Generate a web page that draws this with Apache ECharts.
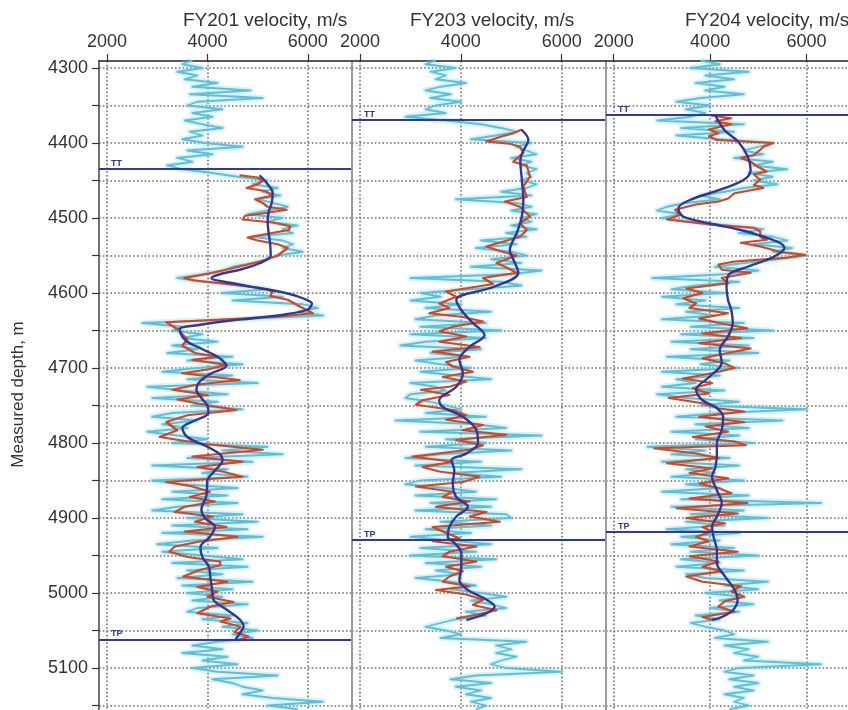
<!DOCTYPE html>
<html>
<head>
<meta charset="utf-8">
<script src="https://cdn.jsdelivr.net/npm/echarts@6/dist/echarts.min.js"></script>
<style>html,body{margin:0;padding:0;background:#fff}#c{width:848px;height:710px}</style>
</head>
<body>
<div id="c"></div>
<script>
// ---------------- DATA ----------------
const wells = ['FY201', 'FY203', 'FY204'];
const velocityTicks = [2000, 4000, 6000];
const depthLabels = [4300, 4400, 4500, 4600, 4700, 4800, 4900, 5000, 5100];
const depthTicks = [4300, 4350, 4400, 4450, 4500, 4550, 4600, 4650, 4700, 4750, 4800, 4850, 4900, 4950, 5000, 5050, 5100, 5150];
const ttDepth = [4435, 4369, 4363];
const tpDepth = [5062, 4929, 4919];

// cyan (raw log) sampled every 5 m starting at 4290 m
const cyanTop = 4290, cyanStep = 5;
const cyan201 = [
3700,3500,3900,3400,3800,3550,4200,3700,4860,3650,
5100,3800,3600,4300,3700,4100,3550,3900,4300,3650,
3900,3500,3950,4700,3600,4100,3400,3700,3200,3500,
4100,4600,5200,4900,5400,5100,5450,5000,5300,5600,
5200,4800,5500,5200,5800,5500,5700,4900,5500,5700,
5500,5900,5400,5200,4900,4500,4300,3900,3400,3900,
4700,5200,4300,5500,4500,5900,6200,5800,6300,4600,
2700,3500,3300,3900,3500,4200,3300,3800,3200,4500,
3600,4700,3800,3100,4500,3600,5000,2800,3500,4400,
2900,4200,3700,4700,3300,2900,3800,3100,3600,2800,
3400,4000,3300,5200,4300,5500,3600,4900,2900,4400,
3900,4800,2900,3500,4600,3300,4400,3100,4600,3400,
2900,4700,3600,5000,3300,4800,3100,5100,3700,3000,
4200,3100,3900,4700,3300,4800,3600,4300,3400,4900,
3500,4500,3600,4300,3700,4800,3800,3600,4500,3900,
4800,4300,5000,4500,4900,4200,3700,4300,3500,4400,
3900,4600,3700,4200,5400,4100,4500,4700,5100,4700,
5300,6300,5200,5800];
const cyan203 = [
3500,3300,3900,3400,3700,3500,4100,3600,3300,3800,
3400,4000,3500,3300,3700,2900,3700,4400,4800,5100,
4700,4200,5400,5100,5300,5500,5000,5400,5200,5500,
5300,5400,5200,5500,5300,4800,5400,3900,5100,5400,
5000,5500,5200,5400,5000,5500,4900,5300,4400,5100,
4300,5000,5300,4600,5200,4200,5600,5000,3000,4800,
5200,4200,3200,3600,3000,4000,3300,4600,3500,3100,
4500,3200,4800,3000,4500,3300,2800,4400,3400,4100,
3100,3600,4200,3200,3900,4600,3000,3500,3700,3000,
2900,3400,3700,4000,3300,4500,2700,4300,4900,3200,
5600,3700,4500,3300,5000,3600,2900,4400,3100,5200,
3800,4800,3200,2900,3700,4300,3100,4700,3400,4600,
3100,4900,5000,3600,4600,3300,4200,3000,3800,4600,
3200,4300,3000,4700,3300,4400,3500,4000,3100,3800,
4300,3800,4400,4900,4200,4600,4900,4100,4500,3900,
3600,3300,3700,4000,3600,5300,4700,5000,4700,5100,
4800,4600,4900,6000,4300,3800,4600,3900,4400,4100,
4600,4200,4500,4300];
const cyan204 = [
3800,4200,3600,4800,3900,4500,3700,4300,3900,4700,
3800,3300,4000,3500,3900,3600,2900,4700,3400,4500,
3300,4200,5300,5000,4700,5100,4500,5300,4900,5600,
4800,5300,4900,5400,4700,4300,3800,4200,3500,3100,
2900,3400,3000,3600,4400,5100,4600,5300,5600,4900,
5700,5300,6000,5400,4700,4100,5000,4300,2800,4600,
3700,3200,4300,3000,3900,3300,4600,3500,4100,3000,
4700,3600,5300,3400,4900,3200,4800,3600,5000,3100,
4400,3800,4600,3000,4200,3300,3700,3000,4300,2900,
3500,4600,3800,6000,4200,3300,5500,3700,4800,3200,
4600,3700,4900,2700,3900,3200,4400,3000,4600,3500,
4100,3200,4700,3500,4200,3000,4800,3400,6300,3200,
4700,3600,5200,3500,4300,3100,4600,3400,4200,3200,
4500,3600,5000,3400,4200,3300,4700,3500,3900,5200,
4300,5000,3900,4700,4200,4900,4000,4600,3700,4200,
3600,3900,4300,4500,4100,5200,4300,4800,4500,5000,
4700,6300,4600,4300,4900,4400,5000,4500,4900,4300,
4700,4500,4800,4400];

// red (filtered log): [depth, velocity]
const red201 = [[4443,4640],[4446,5000],[4450,5100],[4455,5000],[4460,4780],[4464,5150],[4470,5300],[4475,4950],[4480,5100],[4485,5200],[4489,5580],[4493,5200],[4497,4750],[4502,4700],[4506,5300],[4511,5650],[4516,5620],[4521,5200],[4526,4800],[4530,5000],[4535,5400],[4540,5600],[4545,5500],[4550,5400],[4558,5050],[4565,4620],[4574,4050],[4580,3540],[4583,3720],[4588,4400],[4594,5100],[4598,5300],[4604,5250],[4609,5600],[4618,5840],[4627,6100],[4631,5500],[4636,4100],[4639,3180],[4644,3300],[4650,3450],[4655,3500],[4662,3600],[4670,3500],[4680,3750],[4685,4200],[4689,3700],[4696,4380],[4702,4000],[4707,3500],[4716,4640],[4722,3800],[4729,3300],[4736,4000],[4742,3400],[4749,3950],[4756,4580],[4763,3600],[4772,3180],[4783,3400],[4792,3050],[4801,3900],[4809,5100],[4818,3700],[4825,4700],[4832,3800],[4838,4300],[4845,4700],[4852,3180],[4858,3700],[4865,4050],[4872,3650],[4878,4150],[4885,3550],[4892,3350],[4898,4100],[4905,3750],[4912,4380],[4918,3550],[4925,4600],[4932,3800],[4938,3350],[4945,3240],[4952,3600],[4958,4250],[4963,4260],[4969,3860],[4978,3520],[4985,4400],[4992,3800],[4998,4200],[5005,4000],[5012,4520],[5018,4060],[5027,3800],[5034,4460],[5038,4260],[5045,4660],[5052,4540],[5058,4820],[5063,4600]];
const red203 = [[4382,5207],[4387,5040],[4392,4773],[4398,4507],[4401,4973],[4405,5173],[4413,5240],[4425,5040],[4430,5307],[4445,5373],[4458,5240],[4472,5307],[4478,4873],[4485,5173],[4498,5373],[4507,5173],[4516,5307],[4525,5173],[4538,4507],[4544,4773],[4550,5107],[4560,4707],[4566,4907],[4573,5107],[4580,4440],[4588,4640],[4598,3707],[4605,3907],[4614,3573],[4620,3773],[4627,3373],[4632,4040],[4638,4440],[4645,3840],[4651,3573],[4658,4107],[4665,3573],[4672,4373],[4678,3440],[4685,4173],[4692,3707],[4698,3840],[4705,4240],[4712,3640],[4718,4107],[4725,3773],[4729,3207],[4736,3773],[4743,3240],[4749,3107],[4756,3840],[4763,4107],[4769,3707],[4776,4440],[4783,4040],[4789,4907],[4796,3907],[4803,4440],[4809,4173],[4818,3040],[4825,3840],[4832,3240],[4838,3573],[4845,4373],[4852,4040],[4858,3107],[4865,3840],[4872,3640],[4878,4173],[4885,3507],[4892,4507],[4898,4173],[4905,4773],[4912,3440],[4920,3707],[4927,3973],[4931,3440],[4938,4307],[4945,3773],[4951,3640],[4958,4307],[4965,3707],[4971,4040],[4978,3773],[4985,3640],[4991,4173],[4996,3507],[5002,4107],[5009,4440],[5016,4240],[5023,4707],[5029,4307],[5034,3907]];
const red204 = [[4363,3973],[4367,4440],[4371,4107],[4375,4440],[4382,3973],[4387,4173],[4391,3973],[4396,4140],[4400,5307],[4405,5107],[4409,5040],[4416,4907],[4420,4640],[4425,4840],[4431,4973],[4438,5173],[4442,4907],[4449,5040],[4456,4907],[4460,5107],[4467,4507],[4474,4373],[4478,4173],[4482,3707],[4489,3273],[4496,3373],[4502,3107],[4509,4040],[4513,4907],[4518,5040],[4525,5040],[4529,5173],[4533,4640],[4538,5040],[4545,5440],[4549,5973],[4553,5573],[4558,4507],[4562,4173],[4569,4240],[4573,4840],[4580,4240],[4587,4373],[4594,3507],[4600,3840],[4607,3440],[4614,3707],[4620,3573],[4627,4373],[4634,3773],[4640,4173],[4647,4773],[4654,3840],[4660,4640],[4667,3773],[4674,4840],[4680,4373],[4687,3840],[4694,4307],[4700,4507],[4707,4040],[4714,3440],[4720,4040],[4727,3640],[4734,3973],[4740,3140],[4747,3840],[4754,4173],[4758,4707],[4765,3773],[4772,4707],[4778,3907],[4785,4373],[4792,3640],[4798,4507],[4803,4740],[4807,2840],[4814,3707],[4820,4173],[4827,3107],[4834,4040],[4840,3573],[4847,4373],[4854,3773],[4860,4173],[4867,4440],[4874,3573],[4880,4773],[4887,3307],[4894,4573],[4900,3507],[4907,4307],[4912,3840],[4918,4040],[4925,3707],[4931,3973],[4938,3573],[4945,4573],[4951,3573],[4958,4173],[4965,3840],[4971,4240],[4978,3507],[4985,3840],[4991,4640],[4998,4440],[5005,4707],[5011,4307],[5018,4173],[5025,4507],[5032,3840],[5036,4040]];

// blue (smoothed trend): [depth, velocity]
const blue201 = [[4443,5040],[4455,5200],[4467,5300],[4480,5280],[4492,5220],[4505,5200],[4520,5220],[4535,5250],[4550,5260],[4560,5050],[4568,4700],[4575,4250],[4580,4080],[4587,4500],[4593,5000],[4600,5560],[4607,5900],[4614,6080],[4622,6000],[4628,5600],[4633,5000],[4638,4300],[4643,3800],[4648,3450],[4656,3480],[4665,3600],[4675,3900],[4683,4150],[4690,4300],[4697,4380],[4707,4080],[4718,3850],[4729,3780],[4740,3880],[4750,4000],[4760,4020],[4770,3750],[4780,3500],[4792,3600],[4805,4000],[4815,4250],[4823,4300],[4836,4160],[4850,4000],[4870,3980],[4889,3880],[4900,3950],[4912,4150],[4925,4050],[4939,3860],[4952,3900],[4965,4030],[4980,4060],[5000,4100],[5009,4120],[5023,4400],[5035,4640],[5045,4720],[5052,4660],[5062,4560]];
const blue203 = [[4382,5200],[4396,5340],[4409,5250],[4423,5180],[4449,5210],[4476,5240],[4498,5210],[4520,5110],[4543,4970],[4555,5040],[4573,5140],[4592,4640],[4609,3910],[4623,4010],[4640,4240],[4656,4470],[4672,4170],[4689,3970],[4707,4040],[4725,3910],[4743,3570],[4752,3640],[4765,4040],[4783,4310],[4800,4340],[4814,4110],[4823,3810],[4836,3870],[4854,3840],[4872,3910],[4885,4140],[4898,3910],[4912,3770],[4925,3740],[4933,3870],[4947,4010],[4965,4010],[4983,3970],[4996,4140],[5009,4510],[5018,4670],[5027,4510],[5036,4110]];
const blue204 = [[4362,4100],[4383,4300],[4398,4580],[4418,4780],[4436,4840],[4449,4700],[4463,4180],[4476,3580],[4487,3340],[4498,3440],[4507,3980],[4516,4640],[4525,5110],[4533,5440],[4540,5540],[4552,5310],[4565,4780],[4576,4380],[4592,4340],[4609,4370],[4623,4440],[4640,4470],[4658,4370],[4676,4200],[4693,4240],[4712,3980],[4729,3710],[4743,3840],[4752,4110],[4765,4270],[4783,4240],[4800,4140],[4814,4140],[4832,4110],[4845,4040],[4863,4140],[4880,4240],[4898,4140],[4912,4040],[4925,4070],[4943,4140],[4960,4140],[4978,4310],[4996,4510],[5009,4570],[5023,4470],[5032,4240],[5036,4040]];

// ---------------- CHART ----------------
const FONT = '"Liberation Sans", Arial, Helvetica, sans-serif';
const cyanLogs = [cyan201, cyan203, cyan204];
const redLogs = [red201, red203, red204];
const blueLogs = [blue201, blue203, blue204];
const plain = v => String(v);

const gridBoxes = [
  {left: 99, top: 61, width: 252, height: 649},
  {left: 352, top: 61, width: 253, height: 649},
  {left: 606, top: 61, width: 252, height: 649}
];
const dotted = {color: '#6f6f6f', width: 1.6, type: [1.6, 2.2]};

const xAxes = wells.map((w, i) => ({
  gridIndex: i, type: 'value', position: 'top', min: 1840, max: 6860,
  axisLine: {show: true, lineStyle: {color: '#222', width: 1.5}},
  axisTick: {show: true, inside: false, length: 7, customValues: velocityTicks, lineStyle: {color: '#333', width: 1.2}},
  axisLabel: {show: true, customValues: velocityTicks, formatter: plain, margin: 10, fontSize: 18, color: '#333', fontFamily: FONT},
  splitLine: {show: true, lineStyle: dotted}
}));
const yAxes = wells.map((w, i) => ({
  gridIndex: i, type: 'value', inverse: true, min: 4290.67, max: 5156,
  name: i === 0 ? 'Measured depth, m' : '', nameLocation: 'middle', nameGap: 72,
  nameTextStyle: {fontSize: 17, color: '#333', fontFamily: FONT, padding: [0, 18, 0, 0]},
  axisLine: {show: true, lineStyle: {color: i === 0 ? '#444' : '#999', width: i === 0 ? 1.5 : 2}},
  axisTick: {show: i === 0, inside: false, length: 7, customValues: depthTicks, lineStyle: {color: '#333', width: 1.2}},
  axisLabel: {show: i === 0, customValues: depthLabels, formatter: plain, margin: 11, fontSize: 18, color: '#333', fontFamily: FONT},
  splitLine: {show: true, lineStyle: dotted}
}));

const series = [];
wells.forEach((w, i) => {
  const cy = cyanLogs[i].map((v, k) => [v, cyanTop + k * cyanStep]);
  series.push({
    type: 'line', name: w + ' raw halo', xAxisIndex: i, yAxisIndex: i, data: cy,
    showSymbol: false, silent: true, z: 2,
    lineStyle: {color: 'rgba(130,210,228,0.3)', width: 6, join: 'round'}
  });
  series.push({
    type: 'line', name: w + ' raw', xAxisIndex: i, yAxisIndex: i, data: cy,
    showSymbol: false, silent: true, z: 3,
    lineStyle: {color: '#5cc0d7', width: 1.8, join: 'round'}
  });
  series.push({
    type: 'line', name: w + ' filtered', xAxisIndex: i, yAxisIndex: i,
    data: redLogs[i].map(p => [p[1], p[0]]),
    showSymbol: false, silent: true, z: 4,
    lineStyle: {color: '#d9441f', width: 2.2, join: 'round'}
  });
  series.push({
    type: 'line', name: w + ' trend', xAxisIndex: i, yAxisIndex: i,
    data: blueLogs[i].map(p => [p[1], p[0]]),
    showSymbol: false, silent: true, z: 5, smooth: 0.35,
    lineStyle: {color: '#2f3896', width: 2.4},
    markLine: {
      silent: true, symbol: 'none', animation: false,
      lineStyle: {color: '#2f3b9c', width: 2, type: 'solid'},
      label: {show: true, position: 'insideStartTop', formatter: '{b}', color: '#2f3b9c', fontSize: 9, fontWeight: 'bold', fontFamily: FONT, distance: [12, 1]},
      data: [{name: 'TT', yAxis: ttDepth[i]}, {name: 'TP', yAxis: tpDepth[i]}]
    }
  });
});

const titleLeft = [178, 405, 680];
const option = {
  animation: false,
  backgroundColor: '#ffffff',
  title: wells.map((w, i) => ({
    text: w + ' velocity, m/s', left: titleLeft[i], top: 6,
    textStyle: {fontSize: 19, fontWeight: 'normal', color: '#333', fontFamily: FONT}
  })),
  grid: gridBoxes,
  xAxis: xAxes,
  yAxis: yAxes,
  series: series
};
const chart = echarts.init(document.getElementById('c'), null, {renderer: 'canvas'});
chart.setOption(option);
</script>
</body>
</html>
